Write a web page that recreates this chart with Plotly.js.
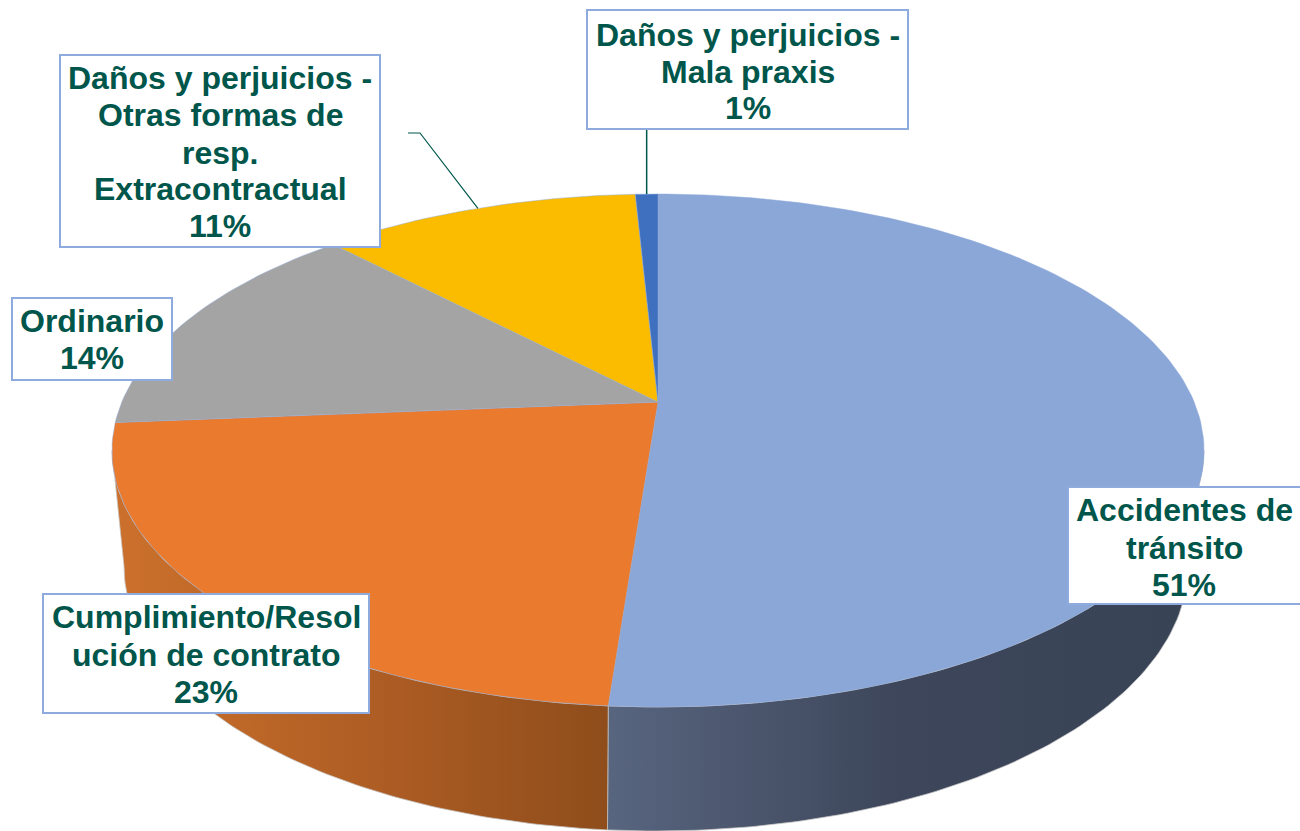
<!DOCTYPE html>
<html><head><meta charset="utf-8">
<script src="https://cdn.plot.ly/plotly-3.0.1.min.js"></script>
<style>html,body{margin:0;padding:0;background:#fff}#c{width:1300px;height:831px}</style>
</head><body><div id="c"></div>
<script>
// ---- data ----
const categories = ["Accidentes de tránsito","Cumplimiento/Resolución de contrato","Ordinario","Daños y perjuicios - Otras formas de resp. Extracontractual","Daños y perjuicios - Mala praxis"];
const shares = [51.2, 22.5, 14.2, 11.3, 0.8];
const labelLines = [["Accidentes de","tránsito"],["Cumplimiento/Resol","ución de contrato"],["Ordinario"],["Daños y perjuicios -","Otras formas de","resp.","Extracontractual"],["Daños y perjuicios -","Mala praxis"]];
const topColors = ["#8ba7d8","#e97a2e","#a4a4a4","#fbbc00","#3f70c0"];
const wallShades = {0:[[0,"#58657f"],[0.5,"#3d465a"],[1,"#394356"]], 1:[[0,"#cb702c"],[0.57,"#ab5b23"],[1,"#8e4d1b"]]};

// ---- geometry of the tilted disc ----
const geo = {cx:658, apexY:402, A:536.2, B:247.3, k:0.189, ex:546, ey:256.5, ecy:450.5, bx:656, by:566, brx:532, bry:265};
const rim = t => { const w = 1+geo.k*Math.cos(t); return [geo.cx+geo.A*Math.sin(t)/w, geo.apexY-geo.B*Math.cos(t)/w]; };
const thetaOf = t => { const p = rim(t); return Math.atan2((p[0]-geo.cx)/geo.ex,(geo.ecy-p[1])/geo.ey); };
const total = shares.reduce((a,b)=>a+b,0);
let run = 0;
const edges = [0].concat(shares.map(v => (run+=v)/total*2*Math.PI));

const traces = [];
// walls: the two front slices
function wall(i, th0, th1, x0, x1){
  const xs=[], ys=[], n=90;
  for(let j=0;j<=n;j++){const h=th0+(th1-th0)*j/n; xs.push(geo.cx+geo.ex*Math.sin(h)); ys.push(geo.ecy-geo.ey*Math.cos(h));}
  for(let j=n;j>=0;j--){const h=th0+(th1-th0)*j/n; xs.push(geo.bx+geo.brx*Math.sin(h)); ys.push(geo.by-geo.bry*Math.cos(h));}
  xs.push(xs[0]); ys.push(ys[0]);
  traces.push({type:"scatter",mode:"lines",x:xs,y:ys,fill:"toself",name:categories[i]+" (lateral)",hoverinfo:"skip",
    line:{color:"rgba(196,196,196,0.75)",width:1},
    fillgradient:{type:"horizontal",colorscale:wallShades[i],start:x0,stop:x1}});
}
let thB = thetaOf(edges[1]); if(thB<0) thB += 2*Math.PI;
wall(0, Math.PI/2, thB, rim(edges[1])[0], geo.bx+geo.brx);
wall(1, thB, 1.5*Math.PI, geo.bx-geo.brx, rim(edges[1])[0]);

// top faces
shares.forEach((v,i)=>{
  const xs=[geo.cx], ys=[geo.apexY], n=Math.max(6,Math.ceil(v*3));
  for(let j=0;j<=n;j++){const p=rim(edges[i]+(edges[i+1]-edges[i])*j/n); xs.push(p[0]); ys.push(p[1]);}
  xs.push(geo.cx); ys.push(geo.apexY);
  traces.push({type:"scatter",mode:"lines",x:xs,y:ys,fill:"toself",fillcolor:topColors[i],name:categories[i],
    line:{color:"rgba(143,170,220,0.45)",width:1},hoverinfo:"skip"});
});

// leader lines end at the middle of their slice's rim
const mid = i => rim((edges[i]+edges[i+1])/2);
const leaderColor = "#00564b";
const mp = mid(4), op = mid(3);
traces.push({type:"scatter",mode:"lines",x:[mp[0],mp[0]],y:[129,mp[1]],line:{color:leaderColor,width:1.5},hoverinfo:"skip",name:"guía 1"});
traces.push({type:"scatter",mode:"lines",x:[408,420,op[0]],y:[133,133,op[1]],line:{color:leaderColor,width:1.2},hoverinfo:"skip",name:"guía 2"});

// label boxes: [x0,x1,y0,y1] and line centres
const boxes = [[1068,1301,487,604],[43,369,594,713],[12,172,298,380],[60,380,55,247],[587,908,10,129]];
const lineYs = [[510,548,585],[617,655,692],[321,358],[78,115,153,189,226],[35,72,108]];
const shapes = boxes.map(b=>({type:"rect",xref:"x",yref:"y",x0:b[0],x1:b[1],y0:b[2],y1:b[3],fillcolor:"#fff",line:{color:"#8faadc",width:2},layer:"above"}));
const annotations = [];
labelLines.forEach((ls,i)=>{
  const all = ls.concat([Math.round(shares[i])+"%"]);
  all.forEach((s,j)=>annotations.push({xref:"x",yref:"y",x:(boxes[i][0]+Math.min(boxes[i][1],1300))/2,y:lineYs[i][j],text:s,showarrow:false,xanchor:"center",yanchor:"middle",
    font:{family:"Liberation Sans, Arial, sans-serif",size:32,color:"#00564b",weight:700}}));
});

Plotly.newPlot("c",traces,{
  width:1300,height:831,margin:{l:0,r:0,t:0,b:0},paper_bgcolor:"#fff",plot_bgcolor:"#fff",showlegend:false,
  xaxis:{range:[0,1300],visible:false,fixedrange:true},
  yaxis:{range:[831,0],visible:false,fixedrange:true},
  shapes:shapes,annotations:annotations
},{displayModeBar:false,staticPlot:true});
</script></body></html>
